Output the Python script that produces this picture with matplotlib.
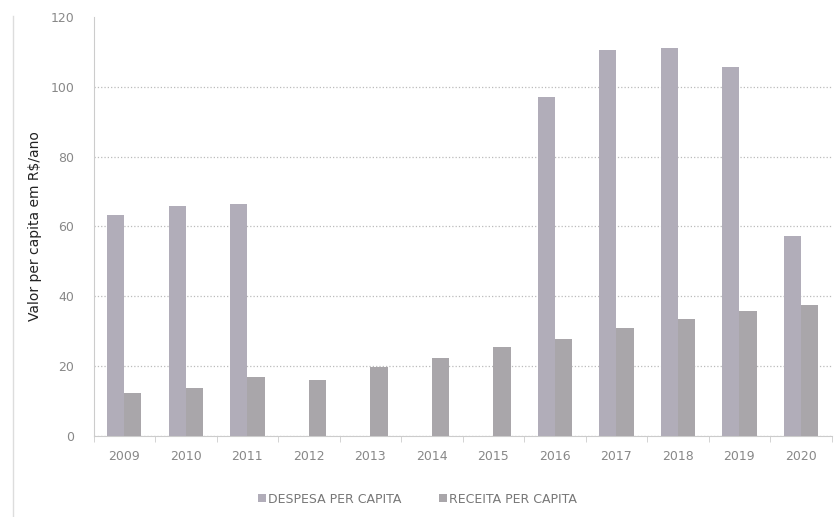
import numpy as np
import matplotlib.pyplot as plt

anos = ['2009', '2010', '2011', '2012', '2013', '2014', '2015', '2016', '2017', '2018', '2019', '2020']
despesa = [63.3, 65.9, 66.5, 0, 0, 0, 0, 97.1, 110.6, 111.2, 105.7, 57.3]
receita = [12.3, 13.8, 16.9, 16.0, 19.8, 22.4, 25.5, 27.8, 30.9, 33.5, 35.8, 37.5]

fig = plt.figure(figsize=(8.35, 5.17), dpi=100)
ax = fig.add_axes([0.112, 0.157, 0.884, 0.81])

x = np.arange(len(anos))
w = 0.28
ax.bar(x - w / 2, despesa, w, color='#b1adb9', label='DESPESA PER CAPITA', zorder=3)
ax.bar(x + w / 2, receita, w, color='#a9a6aa', label='RECEITA PER CAPITA', zorder=3)

ax.set_xlim(-0.5, len(anos) - 0.5)
ax.set_ylim(0, 120)
ax.set_yticks(range(0, 121, 20))
ax.set_xticks(x)
ax.set_xticklabels(anos)
ax.set_xticks(np.arange(-0.5, len(anos), 1), minor=True)
ax.tick_params(axis='x', which='major', length=0, pad=10, labelsize=9, labelcolor='#888888')
ax.tick_params(axis='x', which='minor', length=4, color='#cccccc')
ax.tick_params(axis='y', length=0, pad=14, labelsize=9, labelcolor='#888888')

ax.grid(axis='y', linestyle=':', color='#bbbbbb', linewidth=0.9, zorder=0)
ax.get_ygridlines()[-1].set_visible(False)
for s in ['top', 'right']:
    ax.spines[s].set_visible(False)
ax.spines['left'].set_color('#cccccc')
ax.spines['bottom'].set_color('#cccccc')
ax.spines['left'].set_linewidth(0.8)
ax.spines['bottom'].set_linewidth(0.8)

ax.set_ylabel('Valor per capita em R$/ano', fontsize=10, color='#222222', labelpad=6)

fig.legend(loc='lower center', bbox_to_anchor=(0.5, 0.0), ncol=2, frameon=False,
           fontsize=9, labelcolor='#777777', handlelength=0.6, handleheight=0.6,
           handletextpad=0.2, columnspacing=3)

# borda esquerda tenue
fig.add_artist(plt.Line2D([0.015, 0.015], [0.0, 0.97], color='#dddddd', linewidth=1))

fig.savefig('out.png', dpi=100)
